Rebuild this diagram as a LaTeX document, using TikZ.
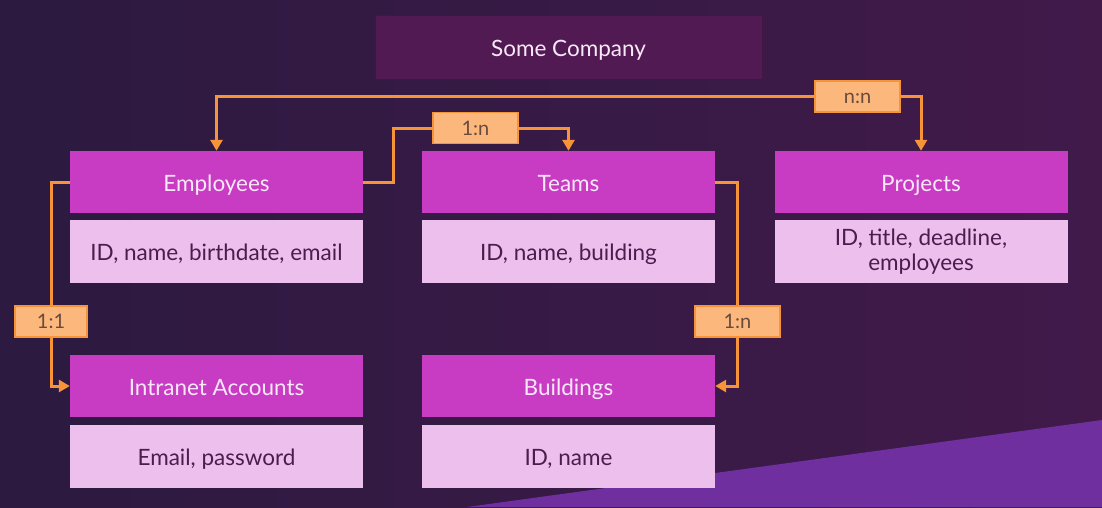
\documentclass[tikz,border=0pt]{standalone}
\usepackage{fontspec}
\setmainfont{Lato}
\usetikzlibrary{arrows.meta}
\definecolor{bgleft}{HTML}{2C1A40}
\definecolor{bgright}{HTML}{411A4A}
\definecolor{wedge}{HTML}{6F2F9E}
\definecolor{topbox}{HTML}{521A52}
\definecolor{head}{HTML}{C83CC4}
\definecolor{field}{HTML}{ECBFEC}
\definecolor{fieldtxt}{HTML}{4A1D4E}
\definecolor{headtxt}{HTML}{F8E8F8}
\definecolor{wire}{HTML}{F7943A}
\definecolor{tagfill}{HTML}{FCB87C}
\definecolor{tagtxt}{HTML}{6A4A3C}
\pgfdeclarelayer{backdrop}
\pgfdeclarelayer{wires}
\pgfsetlayers{backdrop,wires,main}
\tikzset{
  box/.style={rectangle, inner sep=0pt, minimum width=293pt, minimum height=62pt,
    font=\fontsize{22.5}{26}\selectfont},
  oneline/.style={text height=19pt, text depth=1pt},
  headbox/.style={box, fill=head, text=headtxt, oneline},
  fieldbox/.style={box, fill=field, text=fieldtxt, minimum height=63pt, align=center},
  tag/.style={rectangle, inner sep=0pt, minimum width=85pt, minimum height=31pt,
    fill=tagfill, draw=wire, line width=1.8pt, text=tagtxt,
    text height=14pt, text depth=0pt, font=\fontsize{20}{22}\selectfont},
  wireline/.style={draw=wire, line width=3pt},
  wirearrow/.style={wireline, -{Triangle[length=11pt, width=12pt]}},
}
\begin{document}
\begin{tikzpicture}[x=1pt, y=-1pt]
% background and lower-right wedge
\begin{pgfonlayer}{backdrop}
\shade[left color=bgleft, right color=bgright] (0,0) rectangle (1102,507);
\fill[wedge] (467,507) -- (1102,420) -- (1102,507) -- cycle;
\end{pgfonlayer}
\useasboundingbox (0,0) rectangle (1102,507);

% company box
\node[rectangle, minimum width=387pt, minimum height=64pt, fill=topbox,
  draw=topbox!80!black, line width=0.6pt, text=headtxt, oneline,
  font=\fontsize{22.5}{26}\selectfont] (comp) at (568.5,47) {Some Company};

% entity headers
\node[headbox] (emp)   at (216.5,182) {Employees};
\node[headbox] (teams) at (568.5,182) {Teams};
\node[headbox] (proj)  at (921,182)   {Projects};
\node[headbox] (intra) at (216.5,386) {Intranet Accounts};
\node[headbox] (bld)   at (568.5,386) {Buildings};

% entity fields
\node[fieldbox, oneline] (empf)   at (216.5,251.5) {ID, name, birthdate, email};
\node[fieldbox, oneline] (teamsf) at (568.5,251.5) {ID, name, building};
\node[fieldbox] (projf)  at (921,251.5)
  {\raisebox{-1.5pt}{ID, title, deadline,}\\[-1pt]\raisebox{-1.5pt}{employees}};
\node[fieldbox, oneline] (intraf) at (216.5,456.5) {Email, password};
\node[fieldbox, oneline] (bldf)   at (568.5,456.5) {ID, name};

% relation tags
\node[tag] (nn) at (857.5,96.5) {n:n};
\node[tag] (en) at (475.5,128) {1:n};
\node[tag, minimum width=72pt] (oo) at (51,321.5) {1:1};
\node[tag] (tb) at (737.5,321.5) {1:n};
\coordinate (elbow) at (393,182);

% connectors, kept beneath the tags
\begin{pgfonlayer}{wires}
\draw[wirearrow] (nn.west) -| (emp.north);
\draw[wirearrow] (nn.east) -| (proj.north);
\draw[wireline] (emp.east) -- (elbow) |- (en.west);
\draw[wirearrow] (en.east) -| (teams.north);
\draw[wireline] (emp.west) -| (oo.north);
\draw[wirearrow] (oo.south) |- (intra.west);
\draw[wireline] (teams.east) -| (tb.north);
\draw[wirearrow] (tb.south) |- (bld.east);
\end{pgfonlayer}
\end{tikzpicture}
\end{document}
